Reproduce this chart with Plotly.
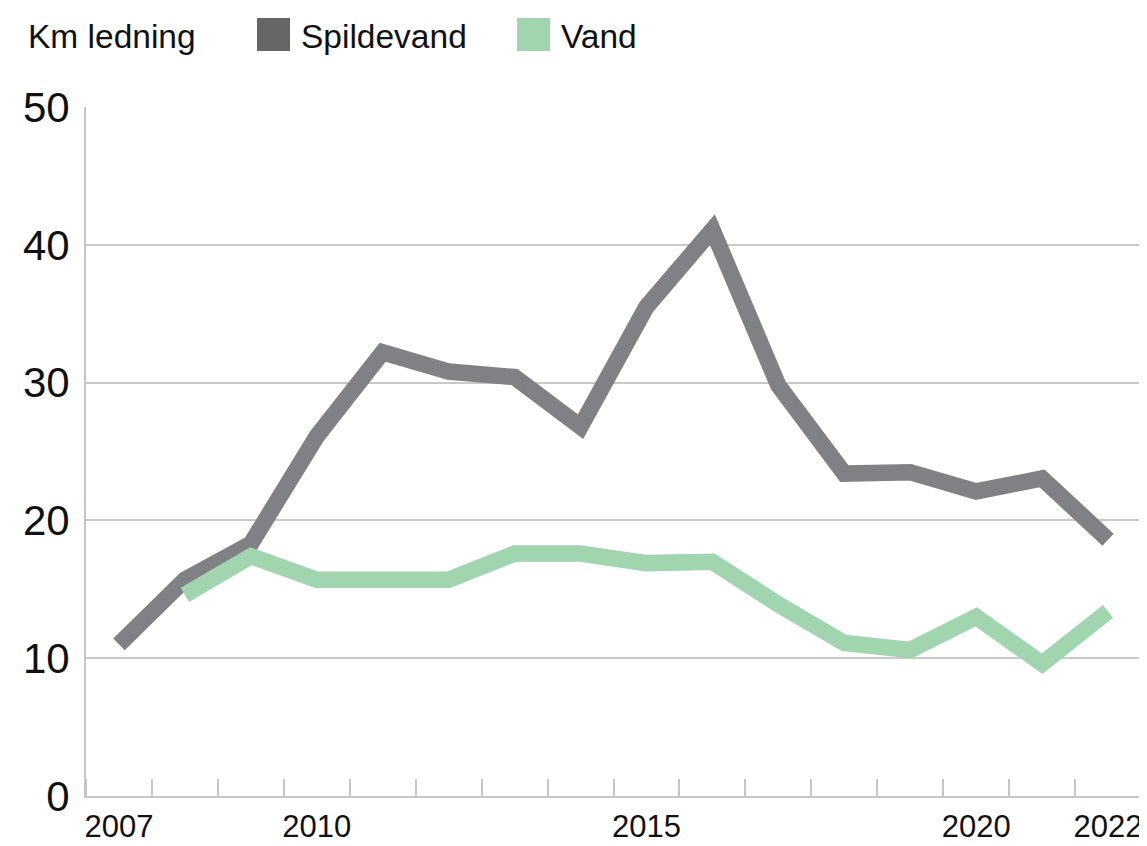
import plotly.graph_objects as go

years = list(range(2007, 2023))
spildevand = [11.0, 15.7, 18.3, 26.1, 32.2, 30.8, 30.4, 26.8, 35.5, 41.1, 29.8, 23.4, 23.5, 22.1, 23.05, 18.6]
vand = [None, 14.6, 17.4, 15.7, 15.7, 15.7, 17.6, 17.6, 16.9, 17.0, 13.9, 11.1, 10.6, 13.0, 9.6, 13.4]

series_names = ["Spildevand", "Vand"]
line_colors = ["#808184", "#a1d5af"]
legend_colors = ["#666666", "#a1d5af"]
unit_label = "Km ledning"

x_ticks = [2007, 2010, 2015, 2020, 2022]
y_ticks = [0, 10, 20, 30, 40, 50]

FONT = "Liberation Sans, Arial, Helvetica, sans-serif"
OFF = 8  # page body margin
W, H = 1147 - OFF, 846 - OFF
L, T = 86 - OFF, 107 - OFF
R = W - (1141 - OFF)
B = H - (796 - OFF)
PW, PH = W - L - R, H - T - B

fig = go.Figure()
for name, vals, col in zip(series_names, [spildevand, vand], line_colors):
    fig.add_trace(go.Scatter(x=years, y=vals, mode="lines", name=name,
                             line=dict(color=col, width=16.5), showlegend=False,
                             connectgaps=False))

def px_x(px):
    return (px - OFF - L) / PW

def px_y(py):
    return (H - B - (py - OFF)) / PH

annotations = [dict(text=unit_label, x=px_x(26), y=px_y(36), xref="paper", yref="paper",
                    xanchor="left", yanchor="middle", showarrow=False,
                    font=dict(size=33.5, color="#111111", family=FONT))]
shapes = []
sw_x = [257, 517]
for name, col, sx in zip(series_names, legend_colors, sw_x):
    shapes.append(dict(type="rect", xref="paper", yref="paper",
                       x0=px_x(sx), x1=px_x(sx + 33), y0=px_y(51), y1=px_y(18),
                       fillcolor=col, line=dict(width=0)))
    annotations.append(dict(text=name, x=px_x(sx + 42), y=px_y(36), xref="paper", yref="paper",
                            xanchor="left", yanchor="middle", showarrow=False,
                            font=dict(size=33.5, color="#111111", family=FONT)))

fig.update_layout(
    width=W, height=H,
    margin=dict(l=L, r=R, t=T, b=B, pad=0, autoexpand=False),
    plot_bgcolor="white", paper_bgcolor="white",
    font=dict(family=FONT, color="#111111"),
    showlegend=False,
    annotations=annotations,
    shapes=shapes,
    xaxis=dict(
        range=[2006.5, 2022.5], tickmode="array", tickvals=x_ticks,
        ticktext=[str(v) for v in x_ticks], ticks="",
        showgrid=False, zeroline=False,
        showline=True, linecolor="#c6c6c6", linewidth=2,
        tickfont=dict(size=31, color="#111111", family=FONT),
        ticklabelstandoff=2,
        minor=dict(tickmode="linear", tick0=2006.5, dtick=1, ticks="inside",
                   ticklen=17, tickwidth=2, tickcolor="#c6c6c6", showgrid=False),
        fixedrange=True,
    ),
    yaxis=dict(
        range=[0, 50], tickmode="array", tickvals=y_ticks, ticks="",
        showgrid=True, gridcolor="#c8c8c8", gridwidth=2,
        zeroline=False, showline=True, linecolor="#c6c6c6", linewidth=2,
        tickfont=dict(size=42, color="#111111", family=FONT),
        ticklabelstandoff=6,
        fixedrange=True,
    ),
)

fig.write_html("out.html")
